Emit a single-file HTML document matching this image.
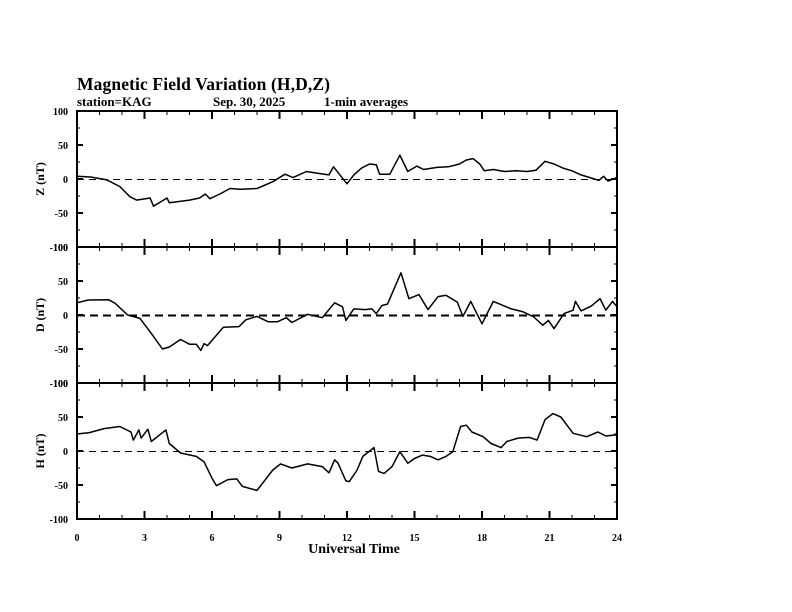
<!DOCTYPE html>
<html><head><meta charset="utf-8"><style>
body{margin:0;background:#fff;}
svg{display:block;font-family:"Liberation Serif",serif;font-weight:bold;}
</style></head><body>
<svg id="c" width="792" height="612" viewBox="0 0 792 612">
<text x="77" y="90" font-size="17.5" textLength="253">Magnetic Field Variation (H,D,Z)</text>
<text x="77" y="106" font-size="13">station=KAG</text>
<text x="213" y="106" font-size="13">Sep. 30, 2025</text>
<text x="324" y="106" font-size="13">1-min averages</text>
<text x="354" y="553" font-size="14" text-anchor="middle">Universal Time</text>
</svg>
<script>
const zHours=[0,0.6,1.3,1.9,2.35,2.65,3.25,3.4,4.0,4.1,5.0,5.45,5.7,5.9,6.35,6.8,7.25,8.0,8.7,9.25,9.6,10.2,10.8,11.2,11.4,12.0,12.3,12.65,13.0,13.3,13.45,13.9,14.35,14.7,15.1,15.4,16,16.5,17,17.3,17.6,17.9,18.1,18.5,19,19.5,20,20.4,20.8,21.2,21.6,22,22.4,22.8,23.2,23.4,23.6,24];
const zValues=[4,3,-1,-11,-26,-31,-28,-40,-28,-35,-31,-28,-22,-29,-22,-14,-15,-14,-4,7,2,11,8,6,18,-7,6,16,22,21,7,7,35,11,19,14,17,18,22,28,30,22,12,14,11,12,11,13,26,22,16,12,6,2,-2,4,-3,2];
const dHours=[0,0.5,1.4,1.7,2.25,2.8,3.3,3.8,4.1,4.6,5.0,5.3,5.5,5.65,5.8,6.5,7.2,7.5,8.0,8.5,8.9,9.3,9.55,10.25,10.9,11.45,11.8,11.95,12.3,12.8,13.1,13.3,13.55,13.8,14.4,14.75,15.2,15.6,16.05,16.4,16.9,17.15,17.5,18.0,18.5,19.3,19.8,20.3,20.7,20.95,21.2,21.65,22.05,22.15,22.4,22.85,23.25,23.5,23.8,24];
const dValues=[18,22,22.5,17,0,-5,-27,-50,-47,-36,-43,-43,-52,-42,-45,-18,-17,-7,-2,-10,-10,-4,-11,1,-4,18,12,-8,9,8,9,2,14,16,62,24,30,8,27,29,19,-2,20,-13,20,9,5,-3,-15,-8,-20,2,7,20,6,13,24,7,20,12];
const hHours=[0,0.55,1.2,1.9,2.4,2.5,2.75,2.85,3.15,3.3,3.95,4.1,4.6,5.3,5.65,6.0,6.2,6.7,7.1,7.35,8.0,8.7,9.05,9.55,10.25,10.9,11.2,11.45,11.6,11.95,12.1,12.45,12.7,13.2,13.4,13.65,14.0,14.35,14.7,15.0,15.35,15.7,16.05,16.4,16.7,17.05,17.3,17.55,18.05,18.4,18.85,19.1,19.6,20.1,20.45,20.8,21.15,21.5,22.05,22.65,23.15,23.5,24];
const hValues=[25,27,33,36,28,16,31,19,32,14,31,11,-3,-8,-16,-40,-51,-42,-41,-52,-58,-28,-19,-25,-19,-23,-32,-13,-18,-44,-45,-28,-8,5,-30,-33,-23,-1,-18,-11,-6,-8,-13,-8,-1,36,38,28,21,11,5,14,19,20,16,46,55,50,26,21,28,22,24];
const xTicks=[0,3,6,9,12,15,18,21,24];
const yTicks=[100,50,0,-50,-100];
const panelNames=["Z","D","H"];

const svg=document.getElementById('c');
const NS="http://www.w3.org/2000/svg";
const X0=77,X1=617,PH=136,TOPS=[111,247,383];
const xs=h=>X0+h*(X1-X0)/24;
function mk(tag,attrs){const e=document.createElementNS(NS,tag);for(const k in attrs)e.setAttribute(k,attrs[k]);svg.appendChild(e);return e;}
const series=[[zHours,zValues],[dHours,dValues],[hHours,hValues]];
TOPS.forEach((top,p)=>{
  const ys=v=>top+(100-v)*PH/200;
  const r=mk('rect',{x:X0,y:top,width:X1-X0,height:PH,fill:'none',stroke:'#000','stroke-width':2});
  
  
  const z=mk('line',{x1:X0,x2:X1,y1:ys(0)+0.5,y2:ys(0)+0.5,stroke:'#000','stroke-width':p==1?2:1,'stroke-dasharray':p==1?'8,5':'7,5'});
  
  
  for(let h=1;h<24;h++){const L=h%3==0?8:4;
    mk('line',{x1:xs(h),x2:xs(h),y1:top,y2:top+L,stroke:'#000','stroke-width':h%3==0?2:1});
    mk('line',{x1:xs(h),x2:xs(h),y1:top+PH,y2:top+PH-L,stroke:'#000','stroke-width':h%3==0?2:1});}
  for(let v=-75;v<=75;v+=25){const L=v%50==0?6:3;
    mk('line',{x1:X0,x2:X0+L,y1:ys(v),y2:ys(v),stroke:'#000','stroke-width':v%50==0?2:1});
    mk('line',{x1:X1,x2:X1-L,y1:ys(v),y2:ys(v),stroke:'#000','stroke-width':v%50==0?2:1});}
  yTicks.forEach(v=>{const t=mk('text',{x:X0-9,y:ys(v)+4,'font-size':10,'text-anchor':'end'});t.textContent=String(v);
    });
  const lab=mk('text',{x:0,y:0,'font-size':12,'text-anchor':'middle',transform:`translate(44,${top+PH/2}) rotate(-90)`});
  lab.textContent=panelNames[p]+' (nT)';
  
  
  const [hs,vs]=series[p];
  const d=hs.map((h,i)=>(i?'L':'M')+xs(h).toFixed(1)+','+ys(vs[i]).toFixed(1)).join('');
  const path=mk('path',{d:d,fill:'none',stroke:'#000','stroke-width':1.5,'stroke-linejoin':'round'});
  
  
});
xTicks.forEach(h=>{const t=mk('text',{x:xs(h),y:541,'font-size':10,'text-anchor':'middle'});t.textContent=String(h);
  });
</script>
</body></html>
